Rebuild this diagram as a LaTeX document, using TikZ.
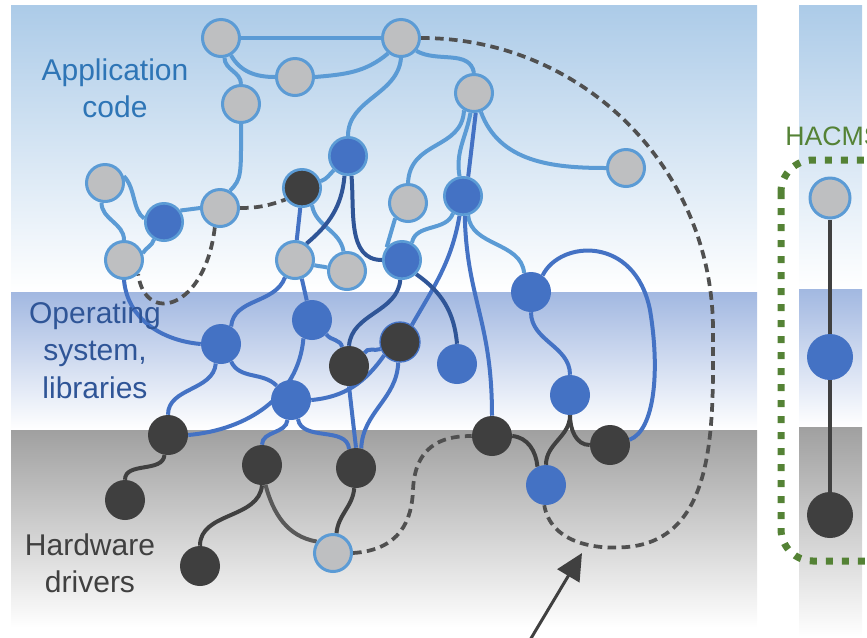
\documentclass[tikz,border=0pt]{standalone}
\usepackage{fontspec}
\setmainfont{Liberation Sans}
\usetikzlibrary{arrows.meta}

\definecolor{lineblue}{HTML}{5B9BD5}
\definecolor{nodeblue}{HTML}{4472C4}
\definecolor{deepblue}{HTML}{2F5597}
\definecolor{nodegray}{HTML}{BEBFC1}
\definecolor{darknode}{HTML}{3F3F3F}
\definecolor{wiregray}{HTML}{404040}
\definecolor{midgray}{HTML}{595959}
\definecolor{dashgray}{HTML}{505050}
\definecolor{appcolor}{HTML}{2E75B6}
\definecolor{hacmsgreen}{HTML}{548235}
\definecolor{appband}{HTML}{ACCBE8}
\definecolor{osband}{HTML}{A2B8E1}
\definecolor{hwband}{HTML}{A0A0A0}

\pgfdeclarelayer{bands}
\pgfdeclarelayer{links}
\pgfsetlayers{bands,links,main}

\begin{document}
\begin{tikzpicture}[x=0.75pt,y=0.75pt,
  appnode/.style={circle,inner sep=0pt,minimum size=27.75pt,fill=nodegray,draw=lineblue,line width=2.25pt},
  osnode/.style={circle,inner sep=0pt,minimum size=30pt,fill=nodeblue},
  hwnode/.style={circle,inner sep=0pt,minimum size=30pt,fill=darknode},
  rim/.style={draw=lineblue,line width=2pt,minimum size=28pt},
  lb/.style={draw=lineblue,line width=3pt},
  bl/.style={draw=nodeblue,line width=3pt},
  db/.style={draw=deepblue,line width=3pt},
  dg/.style={draw=wiregray,line width=3pt},
  dsh/.style={draw=dashgray,line width=2.8pt,dash pattern=on 6.5pt off 4pt},
  lbl/.style={align=center,inner sep=0pt,font=\fontsize{22.5pt}{28pt}\selectfont}]
\useasboundingbox (0,0) rectangle (867,-637);

\begin{pgfonlayer}{bands}
\shade[top color=appband,bottom color=white] (11,-5) rectangle (757,-292);
\shade[top color=osband,bottom color=white] (11,-292) rectangle (757,-430);
\shade[top color=hwband,bottom color=white] (11,-430) rectangle (757,-628);
\shade[top color=appband,bottom color=white] (799,-5) rectangle (862,-289);
\shade[top color=osband,bottom color=white] (799,-289) rectangle (862,-427);
\shade[top color=hwband,bottom color=white] (799,-427) rectangle (862,-637);
\end{pgfonlayer}

% application code
\node[appnode] (a1) at (221,-38) {};
\node[appnode] (a2) at (401,-38) {};
\node[appnode] (a3) at (295,-77) {};
\node[appnode] (a4) at (241,-104) {};
\node[appnode] (a5) at (474,-93) {};
\node[appnode] (a6) at (626,-168) {};
\node[appnode] (a7) at (105,-183) {};
\node[appnode] (a8) at (220,-208) {};
\node[appnode] (a9) at (408,-203) {};
\node[appnode] (a10) at (124,-260) {};
\node[appnode] (a11) at (295,-260) {};
\node[appnode] (a12) at (347,-271) {};
\node[appnode] (a13) at (333,-553) {};

% operating system, libraries
\node[osnode,rim] (b1) at (348,-156) {};
\node[osnode,rim] (b2) at (164,-222) {};
\node[osnode,rim] (b3) at (463,-196) {};
\node[osnode,rim] (b4) at (402,-260) {};
\node[osnode] (b5) at (531,-292) {};
\node[osnode] (b6) at (221,-344) {};
\node[osnode] (b7) at (312,-320) {};
\node[osnode] (b8) at (291,-400) {};
\node[osnode] (b9) at (457,-364) {};
\node[osnode] (b10) at (570,-395) {};
\node[osnode] (b11) at (546,-485) {};

% hardware drivers
\node[hwnode,rim] (d1) at (302,-188) {};
\node[hwnode] (d2) at (349,-366) {};
\node[hwnode,draw=nodeblue,line width=1pt] (d3) at (400,-342) {};
\node[hwnode] (d4) at (168,-435) {};
\node[hwnode] (d5) at (125,-500) {};
\node[hwnode] (d6) at (262,-465) {};
\node[hwnode] (d7) at (356,-468) {};
\node[hwnode] (d8) at (200,-566) {};
\node[hwnode] (d9) at (492,-436) {};
\node[hwnode] (d10) at (610,-445) {};

% HACMS panel
\node[appnode,minimum size=30pt] (r1) at (830,-198) {};
\node[osnode,minimum size=34.5pt] (r2) at (830,-357) {};
\node[hwnode,minimum size=34.5pt] (r3) at (830,-515) {};
\node[anchor=base west,inner sep=0pt,text=hacmsgreen,font=\fontsize{20pt}{24pt}\selectfont] (hacms) at (785,-145) {HACMS};
\draw[hacmsgreen,line width=5.25pt,dash pattern=on 5.25pt off 6.75pt,rounded corners=24pt] (781,-160) rectangle (930,-561);

\node[lbl,text=appcolor] (applbl) at (115,-88) {Application\\code};
\node[lbl,text=deepblue] (oslbl) at (95,-350) {Operating\\system,\\libraries};
\node[lbl,text=wiregray] (hwlbl) at (90,-563) {Hardware\\drivers};

\coordinate (arrtail) at (530,-640);
\coordinate (arrtip) at (582,-553);
\draw[-{Triangle[length=20pt,width=19pt]},line width=2.25pt,wiregray] (arrtail) -- (arrtip);

\begin{pgfonlayer}{links}
\draw[lb] (a1) -- (a2);
\draw[lb] (a1.-60) to[out=-60,in=180] (a3.west);
\draw[lb] (a3.east) to[out=5,in=-140] (a2.-130);
\draw[lb] (a1.-80) to[out=-90,in=90] (a4.north);
\draw[lb] (a4.south) .. controls +(0,-50) and +(12,12) .. (a8.60);
\draw[lb] (a2.south) to[out=-95,in=90] (b1.north);
\draw[lb] (a2.-40) to[out=-30,in=100] (a5.north);
\draw[lb] (a5.-70) to[out=-70,in=180] (a6.west);
\draw[lb] (a5.-120) .. controls (462,-150) and (410,-140) .. (a9.north);
\draw[bl] (a5.-85) -- (b3.75);
\draw[lb] (a5.-100) to[out=-100,in=100] (b3.100);
\draw[lb] (b3.-120) to[out=-110,in=80] (b4.60);
\draw[lb] (b3.-75) to[out=-85,in=95] (b5.110);
\draw[lb] (a9.-130) -- (b4.140);
\draw[lb] (d1.20) to[out=20,in=-135] (b1.-135);
\draw[lb] (d1.-60) to[out=-80,in=100] (a12.100);
\draw[lb] (a11.-15) to[out=-15,in=165] (a12.170);
\draw[lb] (a7.20) .. controls +(12,-12) and +(-12,8) .. (b2.170);
\draw[lb] (a7.-100) to[out=-90,in=90] (a10.north);
\draw[lb] (b2.35) -- (a8.west);
\draw[lb] (b2.-120) to[out=-105,in=60] (a10.20);
% blue
\draw[bl] (a10.south) to[out=-85,in=175] (b6.west);
\draw[bl] (b6.60) to[out=85,in=-110] (a11.-120);
\draw[bl] (b6.-105) to[out=-95,in=90] (d4.north);
\draw[bl] (b6.-60) to[out=-65,in=135] (b8.135);
\draw[bl] (d4.east) to[out=5,in=-95] (b7.-115);
\draw[bl] (b8.east) to[out=5,in=-125] (d3.-140);
\draw[bl] (d3.55) to[out=60,in=-100] (b3.-100);
\draw[bl] (b8.-100) to[out=-95,in=90] (d6.north);
\draw[bl] (b8.-70) to[out=-80,in=95] (d7.110);
\draw[bl] (b7.-45) to[out=-55,in=100] (d2.110);
\draw[bl] (a11.-70) -- (b7.105);
\draw[bl] (d1.-95) -- (a11.85);
\draw[bl] (d2.south) -- (d7.north);
\draw[bl] (d3.-95) to[out=-92,in=88] (d7.75);
\draw[bl] (d2.40) to[out=65,in=200] (d3.200);
\draw[bl] (b3.-85) .. controls (467,-300) and (492,-320) .. (d9.north);
\draw[bl] (b5.south) to[out=-90,in=90] (b10.north);
\draw[bl] (b5.55) .. controls (560,-240) and (635,-235) .. (650,-310) .. controls (660,-370) and (655,-430) .. (d10.15);
% deep blue
\draw[db] (d2.north) to[out=85,in=-95] (b4.-95);
\draw[db] (b4.-45) to[out=-35,in=95] (b9.north);
\draw[db] (b1.-100) to[out=-95,in=40] (a11.55);
\draw[db] (b1.-80) to[out=-85,in=180] (b4.west);
% dark gray
\draw[dg] (d9.east) to[out=-5,in=95] (b11.115);
\draw[dg] (b10.south) to[out=-90,in=90] (b11.north);
\draw[dg] (b10.south) to[out=-90,in=180] (d10.west);
\draw[dg] (d4.-100) to[out=-95,in=90] (d5.north);
\draw[dg] (d6.south) to[out=-95,in=90] (d8.north);
\draw[dg,draw=midgray] (d6.-80) to[out=-75,in=170] (a13.145);
\draw[dg] (d7.-95) to[out=-95,in=85] (a13.80);
\draw[dg] (r1) -- (r2) -- (r3);
% dashed
\draw[dsh] (a8.-105) .. controls (205,-310) and (145,-325) .. (a10.-45);
\draw[dsh] (a8.east) to[out=0,in=200] (d1.215);
\draw[dsh] (a13.east) .. controls (400,-550) and (412,-520) .. (413,-490) .. controls (415,-440) and (450,-436) .. (d9.west);
\draw[dsh] (a2.east) to[out=0,in=90] (713,-330) to[out=-90,in=5] (627,-547) to[out=185,in=-80] (b11.-95);
\end{pgfonlayer}
\end{tikzpicture}
\end{document}
